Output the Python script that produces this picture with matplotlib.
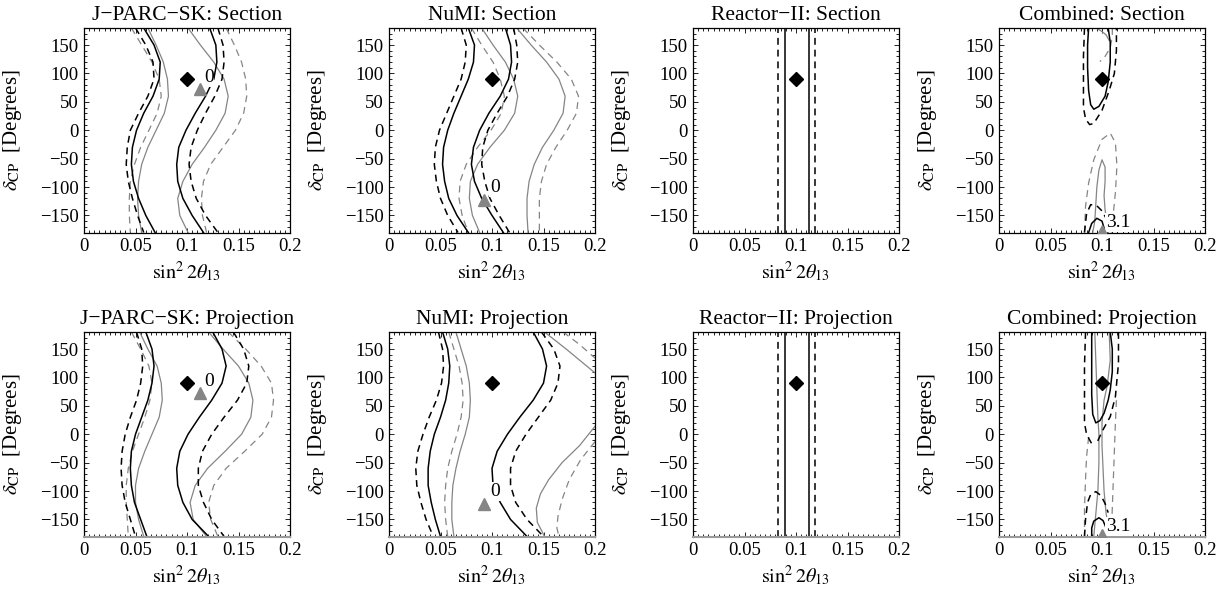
import matplotlib
matplotlib.use("Agg")
import matplotlib.pyplot as plt
from matplotlib.ticker import MultipleLocator, FixedLocator, FuncFormatter

plt.rcParams['font.family'] = ['Liberation Serif', 'DejaVu Serif']
plt.rcParams['mathtext.fontset'] = 'stix'

# delta_CP grid (degrees) used by the wavy contour branches
DELTA = [180, 150, 120, 90, 60, 30, 0, -30, -60, -90, -120, -150, -180]

# key: true_1 / true_2 = true hierarchy (two CL levels), alt_1 / alt_2 = degenerate solution
# each entry is a list of branches (x values, delta values)
JSK_SEC = {
    'true_1': [([0.058, 0.068, 0.074, 0.073, 0.067, 0.058, 0.051, 0.047, 0.046, 0.048, 0.053, 0.060, 0.069], DELTA),
               ([0.122, 0.128, 0.129, 0.126, 0.118, 0.108, 0.099, 0.092, 0.090, 0.091, 0.096, 0.105, 0.116], DELTA)],
    'true_2': [([0.050, 0.060, 0.067, 0.068, 0.062, 0.053, 0.045, 0.042, 0.041, 0.043, 0.047, 0.052, 0.058], DELTA),
               ([0.130, 0.135, 0.136, 0.134, 0.127, 0.118, 0.110, 0.104, 0.102, 0.104, 0.109, 0.118, 0.130], DELTA)],
    'alt_1': [([0.062, 0.070, 0.077, 0.081, 0.082, 0.078, 0.070, 0.062, 0.056, 0.053, 0.052, 0.053, 0.056], DELTA),
              ([0.101, 0.113, 0.126, 0.136, 0.140, 0.137, 0.128, 0.117, 0.105, 0.096, 0.091, 0.093, 0.101], DELTA)],
    'alt_2': [([0.046, 0.056, 0.066, 0.073, 0.075, 0.071, 0.063, 0.055, 0.049, 0.045, 0.044, 0.044, 0.045], DELTA),
              ([0.138, 0.146, 0.153, 0.157, 0.158, 0.155, 0.147, 0.135, 0.123, 0.116, 0.114, 0.115, 0.119], DELTA)],
}

JSK_PRJ = {
    'true_1': [([0.060, 0.066, 0.068, 0.066, 0.062, 0.056, 0.050, 0.046, 0.045, 0.046, 0.049, 0.055, 0.061], DELTA),
               ([0.125, 0.134, 0.138, 0.134, 0.124, 0.112, 0.101, 0.093, 0.090, 0.091, 0.096, 0.105, 0.121], DELTA)],
    'true_2': [([0.051, 0.056, 0.057, 0.055, 0.051, 0.045, 0.040, 0.037, 0.036, 0.037, 0.040, 0.045, 0.050], DELTA),
               ([0.145, 0.155, 0.160, 0.158, 0.149, 0.136, 0.124, 0.115, 0.111, 0.111, 0.116, 0.124, 0.136], DELTA)],
    'alt_1': [([0.054, 0.062, 0.071, 0.075, 0.076, 0.073, 0.066, 0.059, 0.053, 0.050, 0.050, 0.053, 0.058], DELTA),
              ([0.121, 0.135, 0.150, 0.160, 0.164, 0.162, 0.153, 0.137, 0.120, 0.108, 0.103, 0.106, 0.119], DELTA)],
    'alt_2': [([0.046, 0.055, 0.063, 0.066, 0.064, 0.059, 0.053, 0.047, 0.043, 0.041, 0.041, 0.042, 0.043], DELTA),
              ([0.140, 0.157, 0.172, 0.182, 0.184, 0.182, 0.173, 0.156, 0.138, 0.126, 0.121, 0.123, 0.130], DELTA)],
}

NUMI_SEC = {
    'true_1': [([0.077, 0.083, 0.082, 0.077, 0.070, 0.063, 0.057, 0.053, 0.052, 0.054, 0.058, 0.066, 0.077], DELTA),
               ([0.113, 0.118, 0.119, 0.116, 0.108, 0.097, 0.088, 0.082, 0.080, 0.083, 0.090, 0.100, 0.111], DELTA)],
    'true_2': [([0.070, 0.075, 0.074, 0.070, 0.063, 0.056, 0.049, 0.045, 0.044, 0.046, 0.050, 0.057, 0.067], DELTA),
               ([0.121, 0.124, 0.125, 0.122, 0.115, 0.105, 0.096, 0.091, 0.090, 0.093, 0.098, 0.107, 0.117], DELTA)],
    'alt_1': [([0.090, 0.101, 0.113, 0.121, 0.125, 0.122, 0.112, 0.098, 0.086, 0.079, 0.078, 0.081, 0.088], DELTA),
              ([0.124, 0.138, 0.153, 0.165, 0.171, 0.169, 0.160, 0.149, 0.141, 0.136, 0.134, 0.134, 0.135], DELTA)],
    'alt_2': [([0.080, 0.090, 0.101, 0.108, 0.112, 0.109, 0.099, 0.086, 0.075, 0.069, 0.068, 0.071, 0.077], DELTA),
              ([0.130, 0.146, 0.163, 0.177, 0.184, 0.182, 0.173, 0.162, 0.153, 0.148, 0.146, 0.146, 0.146], DELTA)],
}

NUMI_PRJ = {
    'true_1': [([0.052, 0.057, 0.059, 0.058, 0.055, 0.050, 0.044, 0.040, 0.038, 0.038, 0.041, 0.045, 0.050], DELTA),
               ([0.140, 0.149, 0.153, 0.150, 0.140, 0.127, 0.115, 0.105, 0.100, 0.101, 0.108, 0.118, 0.134], DELTA)],
    'true_2': [([0.048, 0.052, 0.053, 0.051, 0.046, 0.039, 0.033, 0.028, 0.026, 0.027, 0.031, 0.036, 0.043], DELTA),
               ([0.148, 0.160, 0.166, 0.164, 0.157, 0.145, 0.133, 0.123, 0.118, 0.118, 0.123, 0.134, 0.150], DELTA)],
    'alt_1': [([0.065, 0.070, 0.075, 0.078, 0.079, 0.078, 0.074, 0.069, 0.065, 0.062, 0.061, 0.061, 0.063], DELTA),
              ([0.151, 0.172, 0.200], [180, 150, 108]),
              ([0.200, 0.185, 0.168, 0.155, 0.147, 0.143, 0.144, 0.151], [14, -20, -50, -80, -105, -130, -155, -180])],
    'alt_2': [([0.058, 0.063, 0.068, 0.071, 0.072, 0.070, 0.066, 0.061, 0.057, 0.055, 0.054, 0.055, 0.057], DELTA),
              ([0.169, 0.185, 0.200], [180, 158, 134]),
              ([0.200, 0.186, 0.175, 0.168, 0.164, 0.163, 0.165], [-13, -45, -80, -115, -145, -165, -180])],
}

REACTOR = {
    'true_1': [([0.0895, 0.0895], [-180, 180]), ([0.1122, 0.1122], [-180, 180])],
    'true_2': [([0.0830, 0.0830], [-180, 180]), ([0.1188, 0.1188], [-180, 180])],
}

COMB_SEC = {
    'true_1': [([0.087, 0.086, 0.086, 0.087, 0.089, 0.092, 0.097, 0.103, 0.106, 0.108, 0.108, 0.106],
                [180, 150, 110, 70, 45, 37, 42, 60, 85, 120, 155, 180]),
               ([0.087, 0.090, 0.095, 0.100, 0.102, 0.103], [-180, -164, -155, -160, -172, -180])],
    'true_2': [([0.083, 0.082, 0.082, 0.082, 0.084, 0.088, 0.092, 0.100, 0.107, 0.112, 0.114, 0.114],
                [180, 130, 80, 40, 20, 10, 12, 35, 70, 100, 140, 180]),
               ([0.083, 0.085, 0.089, 0.095, 0.100, 0.104], [-180, -147, -131, -133, -142, -155])],
    'alt_1': [([0.094, 0.099, 0.104, 0.107], [180, 175, 168, 158]),
              ([0.091, 0.093, 0.094, 0.095, 0.097, 0.100, 0.103, 0.103, 0.102, 0.103, 0.105, 0.106],
               [-180, -160, -130, -100, -70, -52, -65, -90, -115, -140, -165, -180])],
    'alt_2': [([0.110, 0.110, 0.108, 0.103, 0.098], [180, 165, 145, 130, 121]),
              ([0.083, 0.084, 0.087, 0.092, 0.100, 0.108, 0.113, 0.1145, 0.113, 0.111, 0.109],
               [-180, -134, -93, -52, -16, -5, -22, -63, -110, -146, -180])],
}

COMB_PRJ = {
    'true_1': [([0.090, 0.090, 0.090, 0.091, 0.094, 0.098, 0.102, 0.106, 0.108, 0.110, 0.110, 0.108],
                [180, 120, 70, 35, 20, 24, 37, 60, 78, 110, 150, 180]),
               ([0.090, 0.090, 0.092, 0.097, 0.101, 0.104, 0.106], [-180, -165, -153, -147, -152, -165, -180])],
    'true_2': [([0.084, 0.083, 0.083, 0.083, 0.085, 0.088, 0.091], [180, 120, 60, 20, 0, -10, -20]),
               ([0.116, 0.116, 0.113, 0.108, 0.101, 0.095], [180, 125, 66, 31, 8, -15]),
               ([0.083, 0.084, 0.086, 0.089, 0.094, 0.099, 0.103, 0.106],
                [-180, -150, -120, -106, -101, -108, -122, -138])],
    'alt_1': [([0.093, 0.094, 0.095, 0.096, 0.097, 0.097, 0.096, 0.094, 0.092],
               [180, 130, 80, 30, 0, -50, -100, -140, -180]),
              ([0.107, 0.108, 0.105, 0.102, 0.100, 0.100, 0.101, 0.102, 0.104, 0.108],
               [180, 130, 85, 60, 20, -20, -60, -100, -140, -180])],
    'alt_2': [([0.087, 0.085, 0.084, 0.083, 0.083], [-5, -40, -80, -130, -180]),
              ([0.114, 0.113, 0.112, 0.111, 0.110, 0.109], [60, 20, -30, -80, -130, -180])],
}

TRUE_BEST = (0.1, 90)

# (title, contours, degenerate best fit, chi2 label text, label position)
PANELS = [
    ('J\u2212PARC\u2212SK: Section', JSK_SEC, (0.113, 72), '0', (0.121, 92)),
    ('NuMI: Section', NUMI_SEC, (0.092, -122), '0', (0.103, -101)),
    ('Reactor\u2212II: Section', REACTOR, None, None, None),
    ('Combined: Section', COMB_SEC, (0.1, -178), '3.1', (0.116, -163)),
    ('J\u2212PARC\u2212SK: Projection', JSK_PRJ, (0.113, 72), '0', (0.121, 92)),
    ('NuMI: Projection', NUMI_PRJ, (0.092, -122), '0', (0.103, -101)),
    ('Reactor\u2212II: Projection', REACTOR, None, None, None),
    ('Combined: Projection', COMB_PRJ, (0.1, -178), '3.1', (0.116, -163)),
]

GRAY = '#858585'
STYLES = {
    'true_1': dict(color='black', lw=1.1, ls='-'),
    'true_2': dict(color='black', lw=1.1, ls=(0, (4.5, 3.2))),
    'alt_1': dict(color=GRAY, lw=0.9, ls='-'),
    'alt_2': dict(color=GRAY, lw=0.9, ls=(0, (5.5, 4))),
}

W, H = 1226, 594
COL_LEFT = [84, 389, 693, 999]
ROW_TOP = [28, 332]
AX_W, AX_H = 206, 204.5

fig = plt.figure(figsize=(W / 100, H / 100), dpi=100)

for i, (title, contours, alt_best, lab, lab_pos) in enumerate(PANELS):
    row, col = divmod(i, 4)
    left = COL_LEFT[col] / W
    bottom = 1 - (ROW_TOP[row] + AX_H) / H
    ax = fig.add_axes([left, bottom, AX_W / W, AX_H / H])

    for key in ['alt_2', 'alt_1', 'true_2', 'true_1']:
        for xs, ys in contours.get(key, []):
            ax.plot(xs, ys, **STYLES[key])

    ax.plot(*TRUE_BEST, marker='D', ms=7.5, color='black', ls='none', zorder=5)
    if alt_best is not None:
        ax.plot(*alt_best, marker='^', ms=8.5, color=GRAY, ls='none', zorder=5)
    if lab is not None:
        ax.text(lab_pos[0], lab_pos[1], lab, fontsize=14, ha='center', va='center',
                bbox=dict(boxstyle='square,pad=0.05', fc='white', ec='none'), zorder=4)

    ax.set_xlim(0, 0.2)
    ax.set_ylim(-180, 180)
    ax.xaxis.set_major_locator(FixedLocator([0, 0.05, 0.1, 0.15, 0.2]))
    ax.xaxis.set_minor_locator(MultipleLocator(0.005))
    ax.yaxis.set_major_locator(FixedLocator([-150, -100, -50, 0, 50, 100, 150]))
    ax.yaxis.set_minor_locator(MultipleLocator(10))
    ax.xaxis.set_major_formatter(FuncFormatter(lambda v, p: '0' if abs(v) < 1e-9 else f'{v:g}'))
    ax.tick_params(which='both', direction='in', top=True, right=True, labelsize=13.5, width=0.6)
    ax.tick_params(which='major', length=3.5, pad=4)
    ax.tick_params(which='minor', length=2)
    for sp in ax.spines.values():
        sp.set_linewidth(0.9)
    if row == 1:
        ax.spines['bottom'].set_color('#9a9a9a')
        ax.spines['bottom'].set_linewidth(1.5)

    ax.set_title(title, fontsize=15.5, pad=6)
    ax.set_xlabel(r'$\mathrm{sin}^2\, 2\theta_{13}$', fontsize=14.5)
    ax.set_ylabel(r'$\delta_{\mathrm{CP}}$  [Degrees]', fontsize=15)
    ax.xaxis.label.set_va('center')
    ax.yaxis.label.set_va('center')
    ax.xaxis.set_label_coords(0.5, -0.19)
    ax.yaxis.set_label_coords(-0.345, 0.5)

fig.savefig('out.png', dpi=100)
